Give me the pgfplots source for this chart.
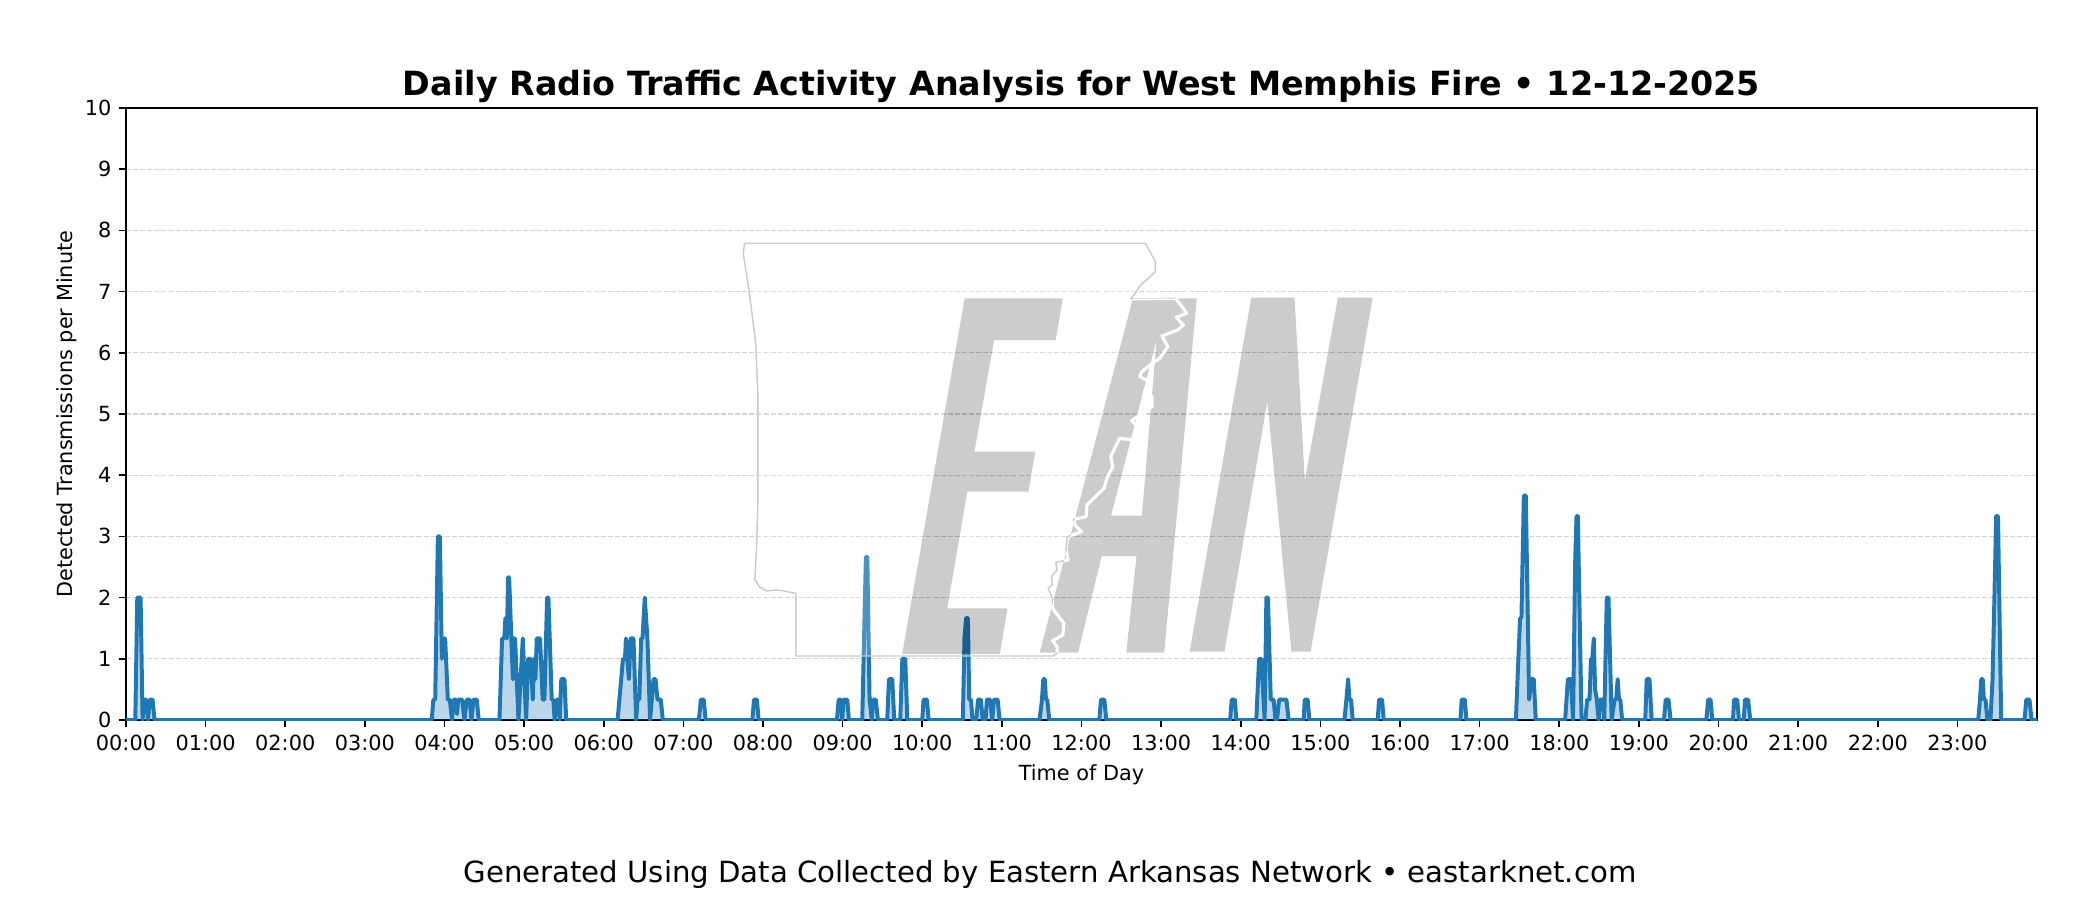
\documentclass[border=0pt]{standalone}
\usepackage{fontspec}
\setmainfont{DejaVu Sans}
\usepackage{pgfplots}
\usepackage{pgfplotstable}
\pgfplotsset{compat=1.18}

\definecolor{tabblue}{HTML}{1F77B4}
\definecolor{outlinegrey}{HTML}{CBCBCB}

% detections per minute, x in minutes after midnight
\pgfplotstableread{
min val
0 0
7 0
8.5 2
11 2
12.5 0
13.5 .333
15.5 .333
16.5 0
18 .333
20 .333
21.5 0
230.4 0
231.6 .333
233 .333
235 3
236.5 3
238 1
239.7 1.333
240.5 1.333
242.5 .333
244 .333
245.7 0
247 .333
248.7 .333
249.5 .1
250.3 .333
253.3 .333
255 0
256.8 .333
259 .333
260.3 0
261.8 .333
264.3 .333
265.8 0
281.4 0
283.4 1.333
285 1.333
285.9 1.667
287 1.333
287.9 2.333
288.7 2.333
291.5 .667
292.2 1.333
293.2 1.333
295.7 0
299 1.333
301.5 0
303 1
305 1
306.5 .333
307.5 1
308.5 .667
309.5 1.333
312 1.333
314 .333
315.3 .333
317.3 2
318.3 2
320.8 .333
322 .333
323 0
324.5 .333
326 .333
326.8 0
328 .667
330.4 .667
331.7 0
370.4 0
374.5 1
376 1
376.7 1.333
377.7 1
379 .667
380.2 1.333
382.4 1.333
384.4 0
385.4 .333
386.8 .333
388.2 1.333
389.2 1.333
390.9 2
392.9 1.333
394.9 0
397.5 .667
399 .667
400.5 .333
403 .333
404.5 0
431.7 0
433.2 .333
435.3 .333
436.8 0
472 0
473.2 .333
475.4 .333
476.7 0
535.7 0
537 .333
538.7 .333
539.7 0
540.7 .333
543.5 .333
544.7 0
554.8 0
555.8 1
557.5 2.667
558.6 2.667
560.3 .333
562 0
563 .333
565 .333
566.6 0
573.6 0
574.9 .667
577.4 .667
578.9 0
583.4 0
585 1
587.2 1
588.7 0
600 0
601 .333
603.5 .333
604.8 0
630.6 0
631.8 1.333
633 1.667
634.4 1.667
635.4 .333
636.7 .333
637.9 0
640.7 0
642 .333
644.2 .333
645.5 0
647.7 0
648.7 .333
651.2 .333
652.7 0
654 .333
656.8 .333
658.3 0
688.4 0
690.2 .333
691.2 .667
692.4 .667
693.2 .333
694.2 .333
695.7 0
733.4 0
734.7 .333
737.2 .333
738.7 0
832 0
833.2 .333
835.5 .333
836.7 0
851.7 0
853.8 1
855.5 1
858 0
859.3 2
860.5 2
862.6 .333
864.8 .333
866.1 0
867.3 0
868.9 .333
874.4 .333
876.1 0
887.4 0
888.2 .333
890.4 .333
891.7 0
918.1 0
919.6 .333
920.9 .667
921.9 .333
923.1 .333
924.4 0
943.2 0
944.2 .333
946.5 .333
947.7 0
1005.5 0
1006.5 .333
1008.8 .333
1010 0
1047.3 0
1049 .9
1050.5 1.667
1051.5 1.667
1053.3 3.667
1054.8 3.667
1057.3 .333
1059 .667
1060.8 .667
1062.3 0
1084.4 0
1086.5 .667
1088.8 .667
1090.4 0
1092 2.6
1093 3.333
1094 3.333
1096.8 0
1099.7 0
1101 .333
1102.8 .333
1103.9 1
1104.9 1
1106 1.333
1107 .5
1108.3 .333
1109.7 0
1110.7 .333
1112.8 .333
1113.9 0
1115.8 2
1117.1 2
1119.5 0
1121.6 .333
1122.9 .333
1124 .667
1125 .333
1126 .333
1127.4 0
1144.8 0
1145.9 .667
1148 .667
1149.6 0
1158.9 0
1160.2 .333
1162.3 .333
1163.9 0
1190.8 0
1192.2 .333
1194 .333
1195.3 0
1210.9 0
1211.7 .333
1214.1 .333
1215.4 0
1219.1 0
1219.9 .333
1222.3 .333
1223.9 0
1395.7 0
1397 .333
1398 .667
1399.1 .667
1400 .333
1401.2 .333
1402.6 0
1404.9 0
1406.5 .667
1407.9 2
1409.2 3.333
1410.6 3.333
1413 0
1430.6 0
1431.9 .333
1434.3 .333
1435.9 0
1440 0
}\traffic

% watermark outlines, traced in zoom pixels
\def\letterE{(548,205) -- (768,205) -- (752,330) -- (614,330) -- (570,665) -- (706,665) -- (691,785) -- (554,785) -- (509,1135) -- (644,1135) -- (627,1272) -- (408,1272) -- cycle}
\def\letterA{(925,205) -- (1068,205) -- (995,1268) -- (910,1268) -- (933,978) -- (855,978) -- (802,1268) -- (716,1268) -- cycle (978,330) -- (945,857) -- (876,857) -- cycle}
\def\letterN{(1190,203) -- (1287,203) -- (1310,752) -- (1384,203) -- (1462,203) -- (1323,1265) -- (1280,1265) -- (1226,515) -- (1130,1265) -- (1052,1265) -- cycle}
\def\stateline{(55,40) -- (953,40) -- (965,70) -- (975,95) -- (975,125) -- (960,145) -- (942,165) -- (930,190) -- (920,207) -- (1020,205) -- (1035,230) -- (1045,250) -- (1022,262) -- (1038,285) -- (1025,300) -- (990,318) -- (1003,350) -- (985,385) -- (968,400) -- (945,425) -- (940,440) -- (962,455) -- (950,485) -- (968,500) -- (968,530) -- (940,555) -- (922,572) -- (935,590) -- (930,630) -- (895,625) -- (875,680) -- (880,710) -- (868,740) -- (860,775) -- (822,825) -- (820,860) -- (792,868) -- (795,885) -- (810,905) -- (778,920) -- (775,960) -- (780,990) -- (752,997) -- (755,1020) -- (742,1040) -- (745,1065) -- (735,1075) -- (745,1105) -- (745,1135) -- (770,1180) -- (768,1215) -- (745,1232) -- (755,1250) -- (755,1270) -- (746,1278) -- (170,1278) -- (170,1090) -- (140,1082) -- (125,1080) -- (105,1083) -- (88,1070) -- (78,1048) -- (82,950) -- (85,800) -- (85,500) -- (80,340) -- (65,180) -- (52,70) -- cycle}

\begin{document}
\begin{tikzpicture}
\path[use as bounding box] (0bp,0bp) rectangle (1008bp,-432bp);
\begin{axis}[
  at={(60.48bp,-345.6bp)},
  anchor=south west,
  scale only axis,
  width=917.28bp,
  height=293.76bp,
  xmin=0,xmax=1440,
  ymin=0,ymax=10,
  xtick={0,60,...,1380},
  xticklabels={00:00,01:00,02:00,03:00,04:00,05:00,06:00,07:00,08:00,09:00,10:00,11:00,12:00,13:00,14:00,15:00,16:00,17:00,18:00,19:00,20:00,21:00,22:00,23:00},
  ytick={0,1,...,10},
  tick align=outside,
  xtick pos=bottom,
  ytick pos=left,
  major tick length=3.5bp,
  tick style={black,line width=0.8bp},
  axis line style={black,line width=0.8bp},
  ymajorgrids=true,
  grid style={gray!35,line width=0.5bp,dash pattern=on 2.4bp off 1bp},
  tick label style={font=\fontsize{10bp}{12bp}\selectfont},
  /pgf/number format/assume math mode=true,
  xlabel={Time of Day},
  ylabel={Detected Transmissions per Minute},
  ylabel style={yshift=-3.2bp},
  label style={font=\fontsize{10bp}{12bp}\selectfont},
  title={\textbf{Daily Radio Traffic Activity Analysis for West Memphis Fire • 12-12-2025}},
  title style={font=\fontsize{16bp}{19bp}\selectfont,yshift=-6.9bp},
]
\addplot[draw=none,fill=tabblue,fill opacity=0.3] table[x=min,y=val] {\traffic} \closedcycle;
\addplot[tabblue,line width=1.9bp,line join=round,mark=none] table[x=min,y=val] {\traffic};
\end{axis}
% watermark sits on top of the plot
\begin{scope}[shift={(345.6bp,-110.4bp)},x=0.2143bp,y=-0.16bp]
  \fill[white,fill opacity=0.2,even odd rule] \stateline \letterE;
  \draw[outlinegrey,line width=0.7bp,line join=round] \stateline;
  \fill[black,fill opacity=0.2,even odd rule] \letterE;
  \fill[black,fill opacity=0.2,even odd rule] \letterA;
  \fill[black,fill opacity=0.2,even odd rule] \letterN;
  \begin{scope}
    \clip \letterA;
    \draw[white,line width=1.5bp,line join=round] \stateline;
  \end{scope}
\end{scope}
\node[font=\fontsize{14bp}{17bp}\selectfont] at (504bp,-419.6bp) {Generated Using Data Collected by Eastern Arkansas Network • eastarknet.com};
\end{tikzpicture}
\end{document}
